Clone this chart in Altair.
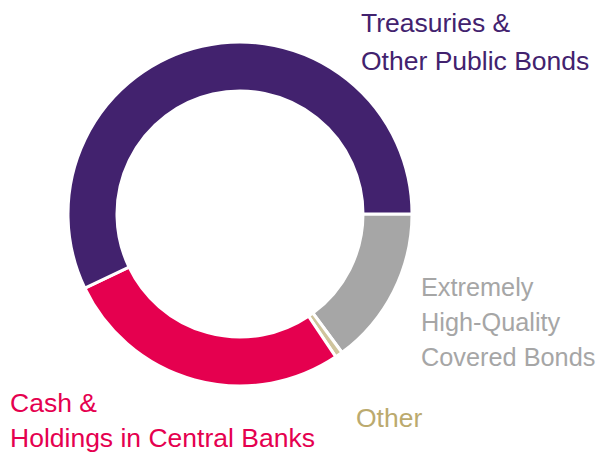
import math
import altair as alt
import pandas as pd

# Data (clockwise from 3 o'clock)
categories = [
    "Extremely High-Quality Covered Bonds",
    "Other",
    "Cash & Holdings in Central Banks",
    "Treasuries & Other Public Bonds",
]
shares = [14.9, 0.7, 27.3, 57.1]
colors = ["#A6A6A6", "#CFC49C", "#E5004F", "#42226E"]
label_lines = [
    ["Extremely", "High-Quality", "Covered Bonds"],
    ["Other"],
    ["Cash &", "Holdings in Central Banks"],
    ["Treasuries &", "Other Public Bonds"],
]
label_colors = ["#A6A6A6", "#BBAA6E", "#E5004F", "#42226E"]

df = pd.DataFrame({"category": categories, "share": shares, "rank": list(range(len(categories)))})

W, H = 589, 445
CX, CY = 232, 206

ring = alt.Chart(df).mark_arc(
    outerRadius=172, innerRadius=123, stroke="white", strokeWidth=3
).encode(
    theta=alt.Theta("share:Q", stack=True,
                    scale=alt.Scale(range=[math.pi / 2, math.pi / 2 + 2 * math.pi])),
    color=alt.Color("category:N", scale=alt.Scale(domain=categories, range=colors), legend=None),
    order=alt.Order("rank:Q"),
    x=alt.value(CX),
    y=alt.value(CY),
)

# label anchor positions (layout), baseline of first line
label_pos = [(413, 288), (348, 419), (2, 404), (353, 24)]
line_heights = [35, 35, 35, 38]
font_sizes = [25.3, 26.5, 26.5, 26.5]

layers = [ring]
for cat, lines, col, (lx, ly), lh, fs in zip(categories, label_lines, label_colors, label_pos, line_heights, font_sizes):
    ldf = pd.DataFrame({"category": [cat], "label": ["\n".join(lines)]})
    layers.append(
        alt.Chart(ldf).mark_text(
            align="left", baseline="alphabetic", font="Liberation Sans",
            fontSize=fs, color=col, lineBreak="\n", lineHeight=lh,
        ).encode(text="label:N", x=alt.value(lx), y=alt.value(ly))
    )

chart = alt.layer(*layers).properties(
    width=W, height=H, padding=0, autosize="none"
).configure_view(stroke=None)

chart.save("out.html", embed_options={"renderer": "svg", "actions": False})
